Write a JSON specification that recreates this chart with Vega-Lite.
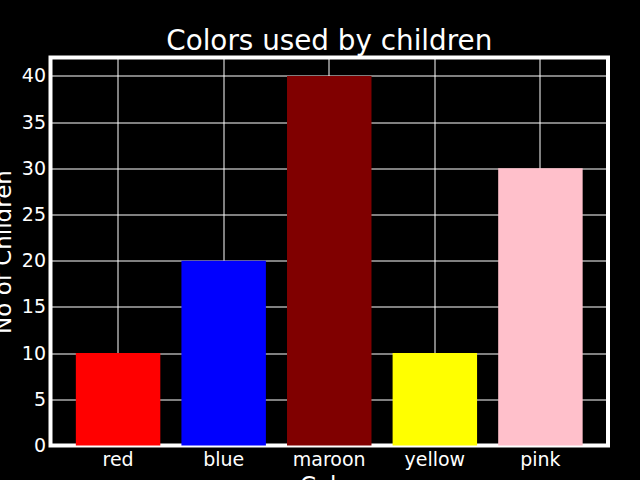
{
  "$schema": "https://vega.github.io/schema/vega-lite/v6.json",
  "autosize": {"type": "none"},
  "width": 557.5,
  "height": 388,
  "padding": {"left": 50.5, "top": 57.5, "right": 32, "bottom": 34.5},
  "background": "#000000",
  "title": {
    "text": "Colors used by children",
    "color": "#ffffff",
    "font": "DejaVu Sans",
    "fontSize": 27.8,
    "fontWeight": "normal",
    "anchor": "middle",
    "frame": "group",
    "baseline": "alphabetic",
    "offset": 11,
    "dy": 31
  },
  "config": {
    "view": {"stroke": "#ffffff", "strokeWidth": 4, "fill": "#000000"},
    "font": "DejaVu Sans"
  },
  "data": {
    "values": [
      {"color": "red", "count": 10},
      {"color": "blue", "count": 20},
      {"color": "maroon", "count": 40},
      {"color": "yellow", "count": 10},
      {"color": "pink", "count": 30}
    ]
  },
  "mark": {"type": "bar"},
  "encoding": {
    "x": {
      "field": "color",
      "type": "nominal",
      "sort": null,
      "scale": {"type": "band", "paddingInner": 0.2, "paddingOuter": 0.24},
      "axis": {
        "title": "Color",
        "titleColor": "#ffffff",
        "titleFont": "DejaVu Sans",
        "titleFontSize": 23,
        "titleFontWeight": "normal",
        "titleX": 279,
        "titleY": 47,
        "titleBaseline": "alphabetic",
        "titleAlign": "center",
        "labelAngle": 0,
        "labelColor": "#ffffff",
        "labelFont": "DejaVu Sans",
        "labelFontSize": 19,
        "labelPadding": 5,
        "ticks": false,
        "domain": false,
        "grid": true,
        "gridColor": "#ffffff",
        "gridWidth": 1,
        "gridOpacity": 1,
        "bandPosition": 0.5
      }
    },
    "y": {
      "field": "count",
      "type": "quantitative",
      "scale": {"domain": [0, 42], "nice": false, "zero": true},
      "axis": {
        "title": "No of Children",
        "titleColor": "#ffffff",
        "titleFont": "DejaVu Sans",
        "titleFontSize": 23,
        "titleFontWeight": "normal",
        "titleAngle": 270,
        "titleX": -40,
        "titleY": 194,
        "titleBaseline": "alphabetic",
        "titleAlign": "center",
        "values": [0, 5, 10, 15, 20, 25, 30, 35, 40],
        "labelColor": "#ffffff",
        "labelFont": "DejaVu Sans",
        "labelFontSize": 19,
        "labelPadding": 5,
        "ticks": false,
        "domain": false,
        "grid": true,
        "gridColor": "#ffffff",
        "gridWidth": 1,
        "gridOpacity": 1
      }
    },
    "color": {
      "field": "color",
      "type": "nominal",
      "scale": {
        "domain": ["red", "blue", "maroon", "yellow", "pink"],
        "range": ["#ff0000", "#0000ff", "#800000", "#ffff00", "#ffc0cb"]
      },
      "legend": null
    }
  }
}
